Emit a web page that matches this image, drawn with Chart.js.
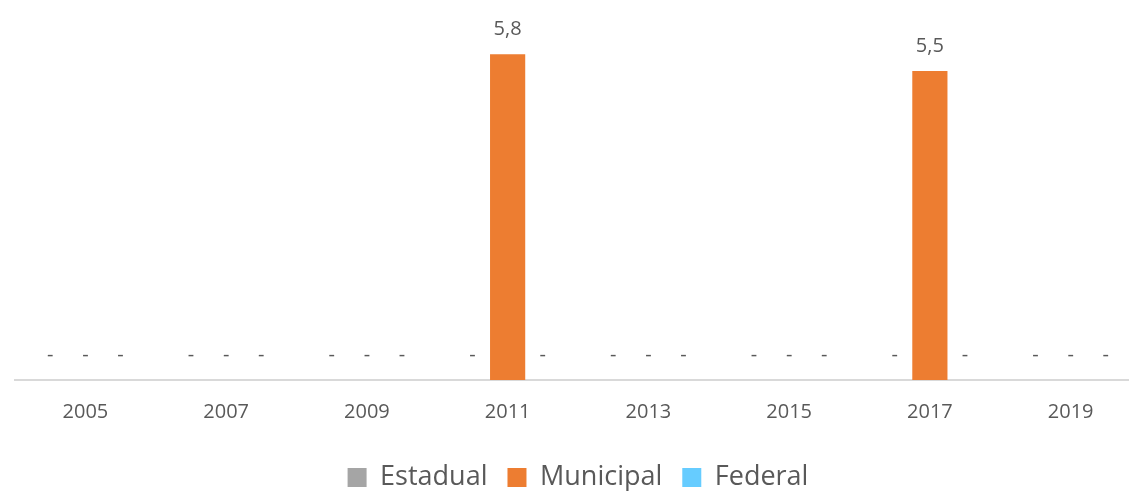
<!DOCTYPE html>
<html>
<head>
<meta charset="utf-8">
<script src="https://cdn.jsdelivr.net/npm/chart.js@4/dist/chart.umd.min.js"></script>
<style>
  html, body { margin: 0; padding: 0; background: #fff; overflow: hidden; }
  #wrap { position: relative; width: 1156px; height: 501px; }
</style>
</head>
<body>
<div id="wrap"><canvas id="grafico"></canvas></div>
<script>
const anos = ["2005", "2007", "2009", "2011", "2013", "2015", "2017", "2019"];
const estadual = [0, 0, 0, 0, 0, 0, 0, 0];
const municipal = [0, 0, 0, 5.8, 0, 0, 5.5, 0];
const federal = [0, 0, 0, 0, 0, 0, 0, 0];

const corTexto = "#595959";
const fonte = "'Open Sans', sans-serif";

// rótulos de valor acima das barras ("-" quando zero)
const rotulos = {
    id: "rotulos",
    afterDatasetsDraw(chart) {
        const ctx = chart.ctx;
        ctx.save();
        ctx.fillStyle = corTexto;
        ctx.font = "20px " + fonte;
        ctx.textAlign = "center";
        ctx.textBaseline = "middle";
        chart.data.datasets.forEach((ds, i) => {
            chart.getDatasetMeta(i).data.forEach((bar, j) => {
                const v = ds.data[j];
                const txt = v === 0 ? "-" : v.toFixed(1).replace(".", ",");
                ctx.fillText(txt, bar.x, bar.y - 25);
            });
        });
        ctx.restore();
    },
};

new Chart(document.getElementById("grafico"), {
    type: "bar",
    data: {
        labels: anos,
        datasets: [
            { label: "Estadual", data: estadual, backgroundColor: "#A5A5A5" },
            { label: "Municipal", data: municipal, backgroundColor: "#ED7D31" },
            { label: "Federal", data: federal, backgroundColor: "#66CCFF" },
        ],
    },
    options: {
        responsive: true,
        maintainAspectRatio: false,
        animation: false,
        categoryPercentage: 0.75,
        barPercentage: 1,
        layout: { padding: { left: 15, right: 15, top: 43, bottom: 0 } },
        plugins: {
            tooltip: { enabled: false },
            legend: {
                position: "bottom",
                labels: {
                    color: corTexto,
                    font: { family: fonte, size: 27 },
                    boxWidth: 19,
                    boxHeight: 19,
                    padding: 20,
                },
            },
        },
        scales: {
            x: {
                grid: { display: false, drawTicks: false },
                border: { color: "#D9D9D9", width: 2 },
                ticks: {
                    color: corTexto,
                    font: { family: fonte, size: 20 },
                    padding: 20,
                },
            },
            y: {
                display: false,
                min: 0,
                max: 6,
            },
        },
    },
    plugins: [rotulos],
});
</script>
</body>
</html>
